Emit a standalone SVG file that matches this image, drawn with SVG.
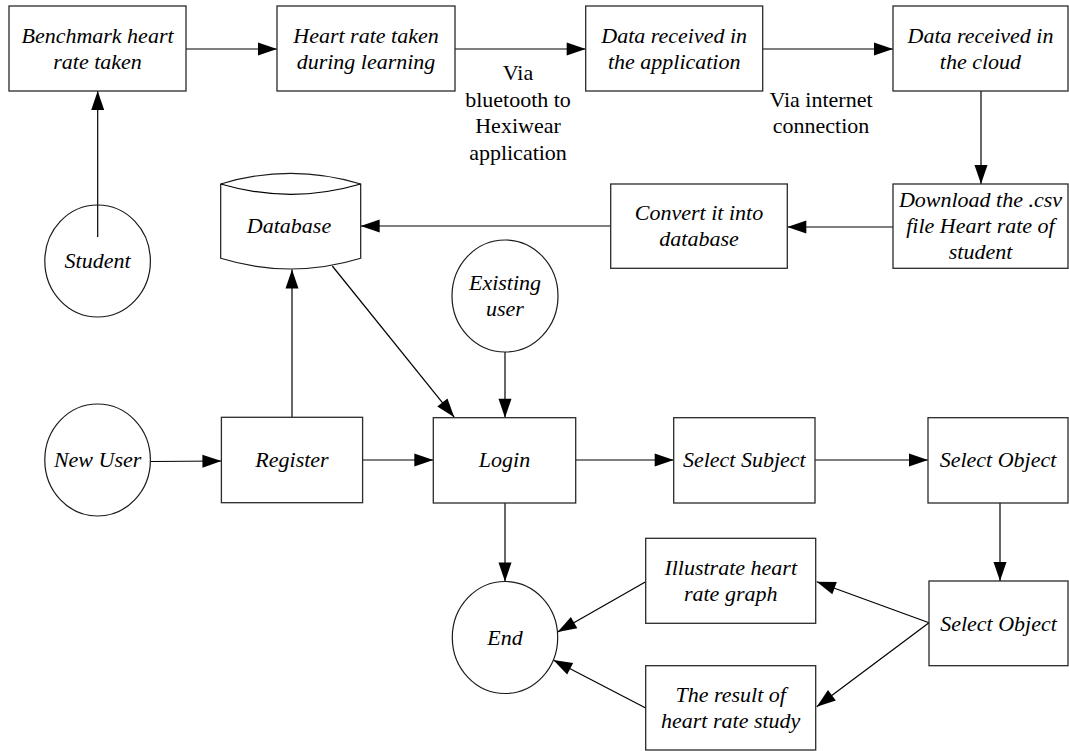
<svg xmlns="http://www.w3.org/2000/svg" width="1069" height="751" viewBox="0 0 1069 751">
<defs>
<style>
.box{fill:#fff;stroke:#2a2a2a;stroke-width:1.3}
.c{fill:#fff;stroke:#1a1a1a;stroke-width:1.2}
text{font-size:22px;fill:#000;text-anchor:middle}
.t{font-style:italic}
.e{fill:none;stroke:#000;stroke-width:1.2;marker-end:url(#ah)}
.n{fill:none;stroke:#000;stroke-width:1.2}
</style>
<marker id="ah" markerUnits="userSpaceOnUse" markerWidth="19" markerHeight="13" refX="19" refY="6.5" orient="auto" overflow="visible">
<path d="M0,0 L19,6.5 L0,13 Z" fill="#000"/>
</marker>
</defs>
<rect width="1069" height="751" fill="#fff"/>

<g id="connectors">
<line class="e" x1="186" y1="49" x2="277" y2="49"/>
<line class="e" x1="455" y1="49" x2="585.7" y2="49"/>
<line class="e" x1="762.7" y1="49" x2="893" y2="49"/>
<line class="e" x1="981" y1="91" x2="981" y2="184"/>
<line class="e" x1="893" y1="227" x2="787.3" y2="227"/>
<line class="e" x1="610.7" y1="226" x2="360.7" y2="226"/>
<line class="e" x1="97.7" y1="237" x2="97.7" y2="91"/>
<line class="e" x1="292" y1="417.3" x2="292" y2="269.5"/>
<line class="e" x1="332.3" y1="266" x2="454.3" y2="417.3"/>
<line class="e" x1="505" y1="352" x2="505" y2="417.7"/>
<line class="e" x1="150.5" y1="461.5" x2="221.4" y2="461"/>
<line class="e" x1="362.6" y1="460" x2="433.3" y2="460"/>
<line class="e" x1="575.7" y1="460" x2="673.7" y2="460"/>
<line class="e" x1="815" y1="460" x2="928" y2="460"/>
<line class="e" x1="1000" y1="503" x2="1000" y2="581"/>
<line class="e" x1="505" y1="503" x2="505" y2="581.5"/>
<line class="e" x1="929" y1="622.7" x2="816.7" y2="581.7"/>
<line class="e" x1="929" y1="622.7" x2="816.7" y2="706.7"/>
<line class="e" x1="645.7" y1="581.7" x2="557.6" y2="632"/>
<line class="e" x1="645.7" y1="708" x2="553.3" y2="660"/>
</g>

<g font-family="Liberation Serif, Times New Roman, DejaVu Serif, serif">
<g id="labels">
<text x="518" y="80">Via</text>
<text x="518" y="106.5">bluetooth to</text>
<text x="518" y="133">Hexiwear</text>
<text x="518" y="159.5">application</text>
<text x="821" y="107">Via internet</text>
<text x="821" y="133">connection</text>
</g>

<g id="benchmark">
<rect class="box" x="9" y="6" width="177" height="85"/>
<text class="t" x="97.5" y="43">Benchmark heart</text>
<text class="t" x="97.5" y="69">rate taken</text>
</g>
<g id="heart-rate-learning">
<rect class="box" x="277" y="6" width="178" height="85"/>
<text class="t" x="366" y="43">Heart rate taken</text>
<text class="t" x="366" y="69">during learning</text>
</g>
<g id="data-app">
<rect class="box" x="585.7" y="6" width="177" height="85"/>
<text class="t" x="674.2" y="43">Data received in</text>
<text class="t" x="674.2" y="69">the application</text>
</g>
<g id="data-cloud">
<rect class="box" x="893" y="6" width="175" height="85"/>
<text class="t" x="980.5" y="43">Data received in</text>
<text class="t" x="980.5" y="69">the cloud</text>
</g>
<g id="download">
<rect class="box" x="893" y="184" width="175" height="84.3"/>
<text class="t" x="980.5" y="206.5">Download the .csv</text>
<text class="t" x="980.5" y="232.5">file Heart rate of</text>
<text class="t" x="980.5" y="258.5">student</text>
</g>
<g id="convert">
<rect class="box" x="610.7" y="184" width="176.6" height="84.3"/>
<text class="t" x="699" y="220">Convert it into</text>
<text class="t" x="699" y="246">database</text>
</g>
<g id="database">
<path class="c" d="M220.7,184 Q290.7,162.6 360.7,184 L360.7,258.3 Q290.7,279.7 220.7,258.3 Z"/>
<path class="n" d="M220.7,184 Q290.7,204.6 360.7,184"/>
<text class="t" x="289" y="233">Database</text>
</g>
<g id="student">
<ellipse class="c" cx="97.6" cy="261" rx="52.8" ry="56"/>
<line class="n" x1="97.7" y1="205" x2="97.7" y2="237"/>
<text class="t" x="97.6" y="268">Student</text>
</g>
<g id="existing-user">
<ellipse class="c" cx="505" cy="296" rx="53" ry="56"/>
<text class="t" x="505" y="290">Existing</text>
<text class="t" x="505" y="316">user</text>
</g>
<g id="new-user">
<ellipse class="c" cx="97.6" cy="460" rx="52.8" ry="56"/>
<text class="t" x="97.6" y="467">New User</text>
</g>
<g id="register">
<rect class="box" x="221.4" y="417.3" width="141.2" height="85.4"/>
<text class="t" x="292" y="467">Register</text>
</g>
<g id="login">
<rect class="box" x="433.3" y="417.7" width="142.4" height="85.3"/>
<text class="t" x="504.5" y="467">Login</text>
</g>
<g id="select-subject">
<rect class="box" x="673.7" y="417.7" width="141.3" height="85.3"/>
<text class="t" x="744.3" y="467">Select Subject</text>
</g>
<g id="select-object-1">
<rect class="box" x="928" y="417.7" width="140" height="85.3"/>
<text class="t" x="998" y="467">Select Object</text>
</g>
<g id="select-object-2">
<rect class="box" x="929" y="581" width="139" height="84.7"/>
<text class="t" x="998.5" y="630.5">Select Object</text>
</g>
<g id="illustrate">
<rect class="box" x="645.7" y="538.3" width="170" height="85"/>
<text class="t" x="730.7" y="575">Illustrate heart</text>
<text class="t" x="730.7" y="601">rate graph</text>
</g>
<g id="result">
<rect class="box" x="645.7" y="665.7" width="170" height="84.3"/>
<text class="t" x="730.7" y="702">The result of</text>
<text class="t" x="730.7" y="728">heart rate study</text>
</g>
<g id="end">
<ellipse class="c" cx="505" cy="637.5" rx="52.7" ry="56"/>
<text class="t" x="505" y="644.5">End</text>
</g>
</g>
</svg>
